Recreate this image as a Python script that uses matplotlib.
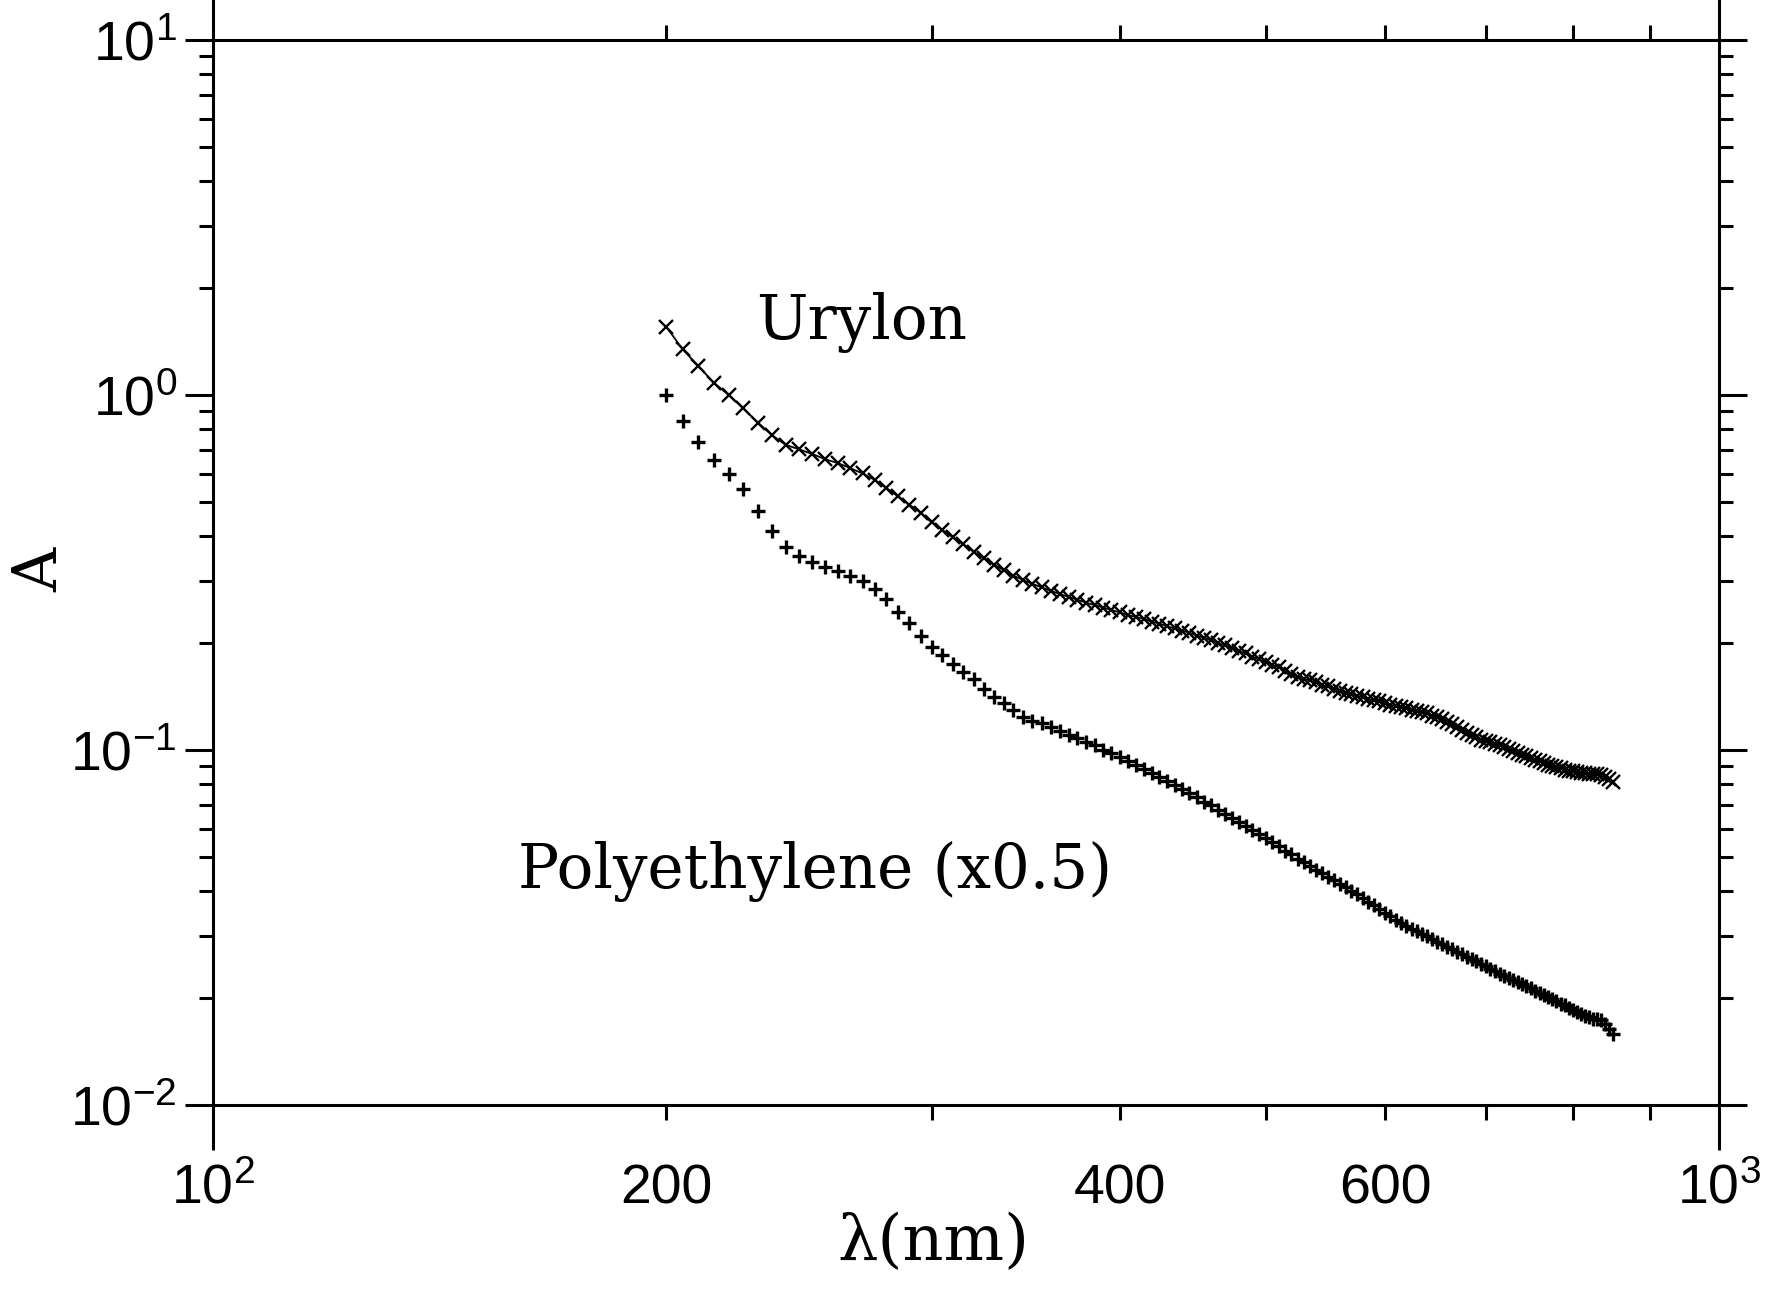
#!/usr/bin/env python3
"""
Absorbance spectra of Urylon and polyethylene films (log-log), redrawn to out.png.
"""
import matplotlib
matplotlib.use("Agg")
import matplotlib.pyplot as plt
import numpy as np
from matplotlib.ticker import FixedLocator, FuncFormatter, LogLocator, NullFormatter

# Wavelength grid of the spectrometer (nm), 5 nm steps from 200 to 850
WAVELENGTH = np.arange(200, 855, 5)

# Urylon absorbance
URYLON = [
    1.556, 1.346, 1.208, 1.084, 1.000, 0.917, 0.836, 0.771, 0.724, 0.703,   # 200-245
    0.682, 0.659, 0.643, 0.622, 0.601, 0.577, 0.547, 0.518, 0.491, 0.466,   # 250-295
    0.438, 0.417, 0.397, 0.380, 0.361, 0.347, 0.333, 0.321, 0.310, 0.301,   # 300-345
    0.294, 0.287, 0.281, 0.275, 0.270, 0.265, 0.260, 0.256, 0.252, 0.248,   # 350-395
    0.244, 0.240, 0.237, 0.234, 0.230, 0.227, 0.223, 0.220, 0.217, 0.214,   # 400-445
    0.210, 0.207, 0.204, 0.200, 0.197, 0.194, 0.190, 0.187, 0.183, 0.180,   # 450-495
    0.177, 0.174, 0.171, 0.167, 0.164, 0.161, 0.159, 0.157, 0.155, 0.152,   # 500-545
    0.151, 0.149, 0.147, 0.145, 0.144, 0.142, 0.141, 0.139, 0.138, 0.137,   # 550-595
    0.136, 0.134, 0.133, 0.132, 0.131, 0.130, 0.129, 0.128, 0.127, 0.125,   # 600-645
    0.124, 0.122, 0.120, 0.118, 0.116, 0.114, 0.112, 0.110, 0.109, 0.107,   # 650-695
    0.106, 0.105, 0.104, 0.103, 0.102, 0.1005, 0.0993, 0.0982, 0.0970, 0.0959,  # 700-745
    0.0951, 0.0940, 0.0929, 0.0918, 0.0910, 0.0902, 0.0893, 0.0887, 0.0881, 0.0875,  # 750-795
    0.0871, 0.0867, 0.0863, 0.0859, 0.0857, 0.0855, 0.0855, 0.0851, 0.0841, 0.0828,  # 800-845
    0.0813,                                                                  # 850
]

# Polyethylene absorbance (already scaled x0.5)
POLYETHYLENE = [
    1.000, 0.845, 0.738, 0.656, 0.599, 0.542, 0.471, 0.415, 0.374, 0.352,   # 200-245
    0.339, 0.328, 0.320, 0.309, 0.299, 0.284, 0.267, 0.245, 0.228, 0.209,   # 250-295
    0.195, 0.185, 0.175, 0.166, 0.158, 0.149, 0.141, 0.136, 0.130, 0.124,   # 300-345
    0.121, 0.119, 0.116, 0.113, 0.110, 0.108, 0.105, 0.103, 0.100, 0.0979,  # 350-395
    0.0955, 0.0931, 0.0906, 0.0883, 0.0861, 0.0838, 0.0817, 0.0796, 0.0774, 0.0755,  # 400-445
    0.0736, 0.0716, 0.0698, 0.0679, 0.0662, 0.0644, 0.0628, 0.0611, 0.0596, 0.0579,  # 450-495
    0.0565, 0.0550, 0.0536, 0.0521, 0.0508, 0.0494, 0.0483, 0.0471, 0.0460, 0.0450,  # 500-545
    0.0440, 0.0430, 0.0420, 0.0410, 0.0401, 0.0392, 0.0383, 0.0373, 0.0365, 0.0356,  # 550-595
    0.0348, 0.0340, 0.0333, 0.0325, 0.0319, 0.0314, 0.0309, 0.0303, 0.0299, 0.0294,  # 600-645
    0.0288, 0.0284, 0.0279, 0.0275, 0.0270, 0.0266, 0.0262, 0.0258, 0.0254, 0.0249,  # 650-695
    0.0246, 0.0242, 0.0238, 0.0234, 0.0231, 0.0228, 0.0225, 0.0222, 0.0219, 0.0216,  # 700-745
    0.0213, 0.0210, 0.0207, 0.0204, 0.0201, 0.0199, 0.0196, 0.0193, 0.0191, 0.0188,  # 750-795
    0.0185, 0.0183, 0.0180, 0.0178, 0.0177, 0.0175, 0.0175, 0.0173, 0.0169, 0.0164,  # 800-845
    0.0158,                                                                  # 850
]

# Axis ticks
X_LABELED = [200, 400, 600]
X_MINOR = [200, 300, 400, 500, 600, 700, 800, 900]
X_MAJOR = [100, 1000]
Y_DECADES = [-2, -1, 0, 1]

SERIF = "DejaVu Serif"
SANS = "Liberation Sans"

plt.rcParams["mathtext.fontset"] = "custom"
plt.rcParams["mathtext.rm"] = SANS
plt.rcParams["mathtext.it"] = SANS + ":italic"
plt.rcParams["mathtext.bf"] = SANS + ":bold"

PX = 72.0 / 100  # points per pixel at dpi 100


def main():
    fig = plt.figure(figsize=(17.74, 13.01), dpi=100)
    ax = fig.add_axes([213 / 1774, 1 - 1105 / 1301, 1506 / 1774, 1065 / 1301])

    ax.plot(WAVELENGTH, URYLON, color="black", lw=1.3, marker="x",
            ms=10, mew=1.7)
    ax.plot(WAVELENGTH, POLYETHYLENE, color="black", ls="none", marker="+",
            ms=10, mew=2.4)

    ax.set_xscale("log")
    ax.set_yscale("log")
    ax.set_xlim(100, 1000)
    ax.set_ylim(1e-2, 1e1)

    # x ticks: decades long, the rest short; labels at 200/400/600
    ax.xaxis.set_major_locator(FixedLocator(X_MAJOR))
    ax.xaxis.set_major_formatter(
        FuncFormatter(lambda v, p: r"$\mathregular{10^{%d}}$" % round(np.log10(v))))
    ax.xaxis.set_minor_locator(FixedLocator(X_MINOR))
    ax.xaxis.set_minor_formatter(
        FuncFormatter(lambda v, p: "%d" % round(v) if round(v) in X_LABELED else ""))

    ax.yaxis.set_major_locator(FixedLocator([10.0 ** k for k in Y_DECADES]))
    ax.yaxis.set_major_formatter(
        FuncFormatter(lambda v, p: r"$\mathregular{10^{%d}}$" % round(np.log10(v))))
    ax.yaxis.set_minor_locator(LogLocator(base=10, subs=np.arange(2, 10)))
    ax.yaxis.set_minor_formatter(NullFormatter())

    ax.tick_params(axis="both", which="both", direction="out", width=2.2,
                   top=True, right=True, labeltop=False, labelright=False,
                   labelsize=40, color="black")
    ax.tick_params(axis="x", which="major", length=45 * PX, pad=14 * PX)
    ax.tick_params(axis="x", which="minor", length=15 * PX, pad=44 * PX,
                   labelsize=40)
    ax.tick_params(axis="y", which="major", length=28 * PX, pad=8 * PX)
    ax.tick_params(axis="y", which="minor", length=14 * PX)
    for lab in ax.get_xticklabels(which="both") + ax.get_yticklabels():
        lab.set_fontfamily(SANS)

    for sp in ax.spines.values():
        sp.set_linewidth(2.2)

    # Axis titles and curve labels
    fig.text(40 / 1774, 1 - 570 / 1301, "A", family=SERIF, fontsize=44,
             rotation=90, ha="center", va="center")
    fig.text(933 / 1774, 1 - 1243 / 1301, "λ(nm)", family=SERIF, fontsize=46,
             ha="center", va="center")
    fig.text(862 / 1774, 1 - 339 / 1301, "Urylon", family=SERIF, fontsize=44,
             ha="center", va="baseline")
    fig.text(815 / 1774, 1 - 888 / 1301, "Polyethylene (x0.5)", family=SERIF,
             fontsize=44, ha="center", va="baseline")

    fig.savefig("out.png", dpi=100, facecolor="white")
    plt.close(fig)


if __name__ == "__main__":
    main()
